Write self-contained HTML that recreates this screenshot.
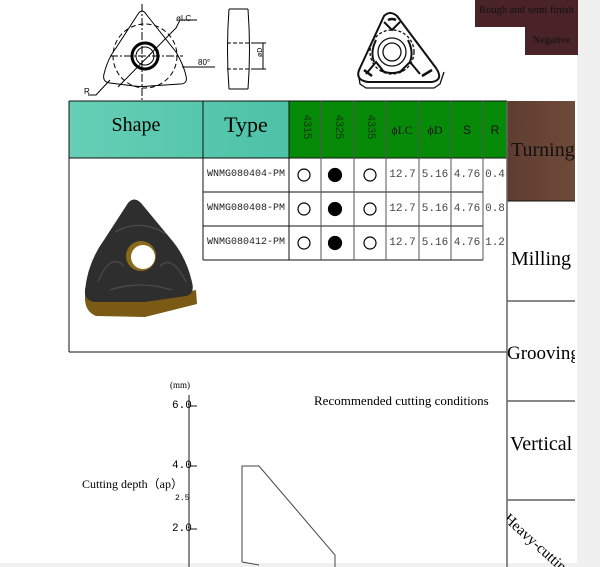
<!DOCTYPE html>
<html><head><meta charset="utf-8"><style>
html,body{margin:0;padding:0;width:600px;height:567px;overflow:hidden;background:#fff;font-family:"Liberation Serif",serif;}
.a{position:absolute;}
.t{position:absolute;text-align:center;white-space:nowrap;}
</style></head><body>
<div class="a" style="left:577px;top:0;width:23px;height:567px;background:#f0f0f0"></div>
<div class="a" style="left:0;top:563px;width:600px;height:4px;background:#f0f0f0"></div>

<div class="a" style="left:475px;top:0;width:103px;height:27px;background:#4a2329"></div>
<div class="a" style="left:525px;top:27px;width:53px;height:28px;background:#4a2329"></div>
<div class="t" style="left:475px;top:5px;width:103px;font-size:10.5px;color:#111">Rough and semi finish</div>
<div class="t" style="left:525px;top:35px;width:53px;font-size:10.5px;color:#111">Negative</div>

<svg class="a" style="left:0;top:0" width="600" height="567">
<!-- top-left drawing -->
<g fill="none" stroke="#000" stroke-width="1">
<path d="M138,14 Q142,8 146,14 L176,52 Q184,66 186,76 Q188,84 180,84 L150,86 Q142,87 134,86 L110,83 Q102,82 104,74 Q108,58 116,48 Z"/>
<circle cx="145" cy="56" r="13" stroke-width="3"/>
<circle cx="145" cy="56" r="9"/>
<circle cx="145" cy="56" r="32" stroke-dasharray="5,3"/>
<path d="M142,4 V100 M110,56 H183" stroke-dasharray="8,2,2,2"/>
<path d="M118,87 L176,28 L180,20 H197"/>
<path d="M182,67 H215"/>
<path d="M88,95 H96 L110,80"/>
<path d="M229,9 H248 M229,89 H248 M229,9 Q226,50 229,89 M248,9 Q251,50 248,89"/>
<path d="M227,43 H251 M227,69 H251" stroke-dasharray="4,2"/>
<path d="M251,43 H266 M251,69 H266 M263,43 V69"/>
</g>
<text x="176" y="21" font-family="Liberation Sans,sans-serif" font-size="8">øI.C</text>
<text x="198" y="65" font-family="Liberation Sans,sans-serif" font-size="8">80°</text>
<text x="84" y="94" font-family="Liberation Sans,sans-serif" font-size="8">R</text>
<text x="258" y="61" font-family="Liberation Sans,sans-serif" font-size="7" transform="rotate(-90 258 57)">øD</text>
<!-- top-right insert line drawing -->
<g fill="none" stroke="#111" stroke-width="1.3">
<path d="M384,16 Q390,10 397,16 L436,68 Q444,80 432,82 L368,82 Q354,80 360,68 Z" stroke-width="2"/>
<path d="M358,72 L360,84 L366,88 L434,88 L440,84 L444,72"/>
<circle cx="392" cy="52" r="9"/>
<circle cx="392" cy="52" r="14"/>
<circle cx="392" cy="52" r="22" stroke-dasharray="3,2"/>
<path d="M384,22 L392,30 L400,22 M366,74 L376,62 L384,72 M400,72 L410,62 L420,74" stroke-width="2"/>
<path d="M376,40 Q370,52 374,62 M408,40 Q414,52 410,62 M380,70 Q392,76 404,70" stroke-width="2"/>
<path d="M388,20 Q392,18 396,20 M364,70 L372,76 M422,76 L432,70" stroke-width="2.5"/>
</g>

<!-- table header -->
<defs><linearGradient id="tq" x1="0" x2="1"><stop offset="0" stop-color="#66cfb6"/><stop offset="1" stop-color="#4cc2a6"/></linearGradient>
<linearGradient id="br" x1="0" x2="1"><stop offset="0" stop-color="#5e3d30"/><stop offset="1" stop-color="#6f4a3a"/></linearGradient></defs>
<rect x="69" y="101" width="220" height="57" fill="url(#tq)"/>
<rect x="289" y="101" width="218" height="57" fill="#078a07"/>
<rect x="507" y="101" width="68" height="100" fill="url(#br)"/>
<g stroke="#111" stroke-width="1" fill="none">
<path d="M69,101 H507 M69,101 V352 M203,101 V260 M289,101 V260 M69,158 H507 M203,192 H483 M203,226 H483 M203,260 H483 M69,352 H507"/>
<path d="M321,101 V260 M354,101 V260 M386,101 V260 M419,101 V260 M451,101 V260 M483,101 V260" stroke="#555"/>
<path d="M507,201 H575 M507,301 H575 M507,401 H575 M507,500 H575"/>
</g>
<path d="M507,101 V567" stroke="#666" stroke-width="1.5"/>

<!-- circles -->
<g stroke="#000" stroke-width="1.2">
<circle cx="304" cy="175" r="6" fill="#fff"/><circle cx="335" cy="175" r="6.5" fill="#000"/><circle cx="370" cy="175" r="6" fill="#fff"/>
<circle cx="304" cy="209" r="6" fill="#fff"/><circle cx="335" cy="209" r="6.5" fill="#000"/><circle cx="370" cy="209" r="6" fill="#fff"/>
<circle cx="304" cy="243" r="6" fill="#fff"/><circle cx="335" cy="243" r="6.5" fill="#000"/><circle cx="370" cy="243" r="6" fill="#fff"/>
</g>

<!-- insert photo -->
<path d="M85,292 L145,300 L196,290 L197,304 L145,317 L96,316 Q86,312 85,300 Z" fill="#7a5a14"/>
<path d="M128,203 Q134,196 141,203 L170,238 Q186,256 192,282 Q195,294 186,296 L145,302 L94,302 Q84,300 85,290 Q88,262 104,240 Z" fill="#2e2e2e"/>
<circle cx="141" cy="256" r="15" fill="#8a6a1a"/>
<circle cx="143" cy="257" r="12" fill="#fff"/>
<g fill="none" stroke="#4a4a4a" stroke-width="1.3">
<path d="M115,232 Q141,218 166,234 M98,282 Q110,252 124,266 M160,266 Q172,254 186,282 M110,290 Q140,280 172,290"/>
</g>

<!-- chart -->
<g stroke="#666" stroke-width="1.5"><path d="M189,395 V567 M189,406 H197 M189,466 H197 M189,529 H197"/></g>
<path d="M242,562 V466 H259 L335,555 V567 M242,562 L259,565" fill="none" stroke="#444" stroke-width="1"/>
</svg>

<div class="t" style="left:69px;top:114px;width:134px;font-size:20px">Shape</div>
<div class="t" style="left:203px;top:112px;width:86px;font-size:22px">Type</div>
<div style="position:absolute;left:507px;top:101px;width:68px;height:466px;overflow:hidden">
<div class="t" style="left:4px;top:38px;font-size:20px;color:#111">Turning</div>
<div class="t" style="left:4px;top:147px;font-size:20px">Milling</div>
<div class="t" style="left:0;top:242px;font-size:19px">Grooving</div>
<div class="t" style="left:3px;top:332px;font-size:20px">Vertical</div>
<div class="t" style="left:4px;top:410px;font-size:15px;transform:rotate(42deg);transform-origin:left top">Heavy-cutting</div>
</div>

<div style="position:absolute;left:289px;top:101px;width:218px;height:57px;color:#0c3a0c;font-size:11px;font-family:'Liberation Sans',sans-serif">
<div class="t" style="left:6px;top:20px;transform:rotate(90deg)">4315</div>
<div class="t" style="left:38px;top:20px;transform:rotate(90deg)">4325</div>
<div class="t" style="left:70px;top:20px;transform:rotate(90deg)">4335</div>
<div class="t" style="left:97px;top:22px;width:32px;color:#111;font-family:'Liberation Serif',serif;font-size:12px">ϕI.C</div>
<div class="t" style="left:130px;top:22px;width:32px;color:#111;font-family:'Liberation Serif',serif;font-size:12px">ϕD</div>
<div class="t" style="left:162px;top:22px;width:32px;color:#111;font-size:12px">S</div>
<div class="t" style="left:194px;top:22px;width:24px;color:#111;font-size:12px">R</div>
</div>

<div style="position:absolute;left:203px;top:158px;font-family:'Liberation Mono',monospace;font-size:10px;color:#222">
<div class="t" style="left:0;top:11px;width:86px">WNMG080404-PM</div>
<div class="t" style="left:0;top:45px;width:86px">WNMG080408-PM</div>
<div class="t" style="left:0;top:79px;width:86px">WNMG080412-PM</div>
</div>
<div style="position:absolute;left:386px;top:158px;font-family:'Liberation Mono',monospace;font-size:11px;color:#444">
<div class="t" style="left:0;top:11px;width:33px">12.7</div><div class="t" style="left:33px;top:11px;width:32px">5.16</div><div class="t" style="left:65px;top:11px;width:32px">4.76</div><div class="t" style="left:97px;top:11px;width:24px">0.4</div>
<div class="t" style="left:0;top:45px;width:33px">12.7</div><div class="t" style="left:33px;top:45px;width:32px">5.16</div><div class="t" style="left:65px;top:45px;width:32px">4.76</div><div class="t" style="left:97px;top:45px;width:24px">0.8</div>
<div class="t" style="left:0;top:79px;width:33px">12.7</div><div class="t" style="left:33px;top:79px;width:32px">5.16</div><div class="t" style="left:65px;top:79px;width:32px">4.76</div><div class="t" style="left:97px;top:79px;width:24px">1.2</div>
</div>

<div class="t" style="left:170px;top:380px;font-size:9px">(mm)</div>
<div class="t" style="left:172px;top:400px;font-size:11px;font-family:'Liberation Mono',monospace">6.0</div>
<div class="t" style="left:172px;top:460px;font-size:11px;font-family:'Liberation Mono',monospace">4.0</div>
<div class="t" style="left:175px;top:494px;font-size:8px;font-family:'Liberation Mono',monospace">2.5</div>
<div class="t" style="left:172px;top:523px;font-size:11px;font-family:'Liberation Mono',monospace">2.0</div>
<div class="t" style="left:82px;top:475px;font-size:12px">Cutting depth（ap）</div>
<div class="t" style="left:314px;top:393px;font-size:13px">Recommended cutting conditions</div>
</body></html>
